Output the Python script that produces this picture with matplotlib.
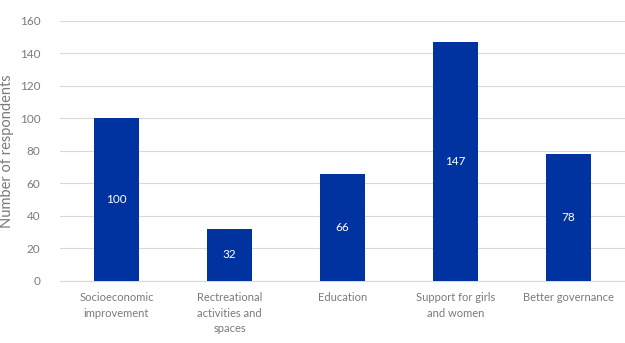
import matplotlib.pyplot as plt

categories = ["Socioeconomic\nimprovement", "Rectreational\nactivities and\nspaces",
              "Education", "Support for girls\nand women", "Better governance"]
values = [100, 32, 66, 147, 78]

plt.rcParams['font.family'] = ['Lato', 'DejaVu Sans']

fig = plt.figure(figsize=(6.25, 3.43), dpi=100)
ax = fig.add_axes([0.096, 0.181, 0.904, 0.758])

bars = ax.bar(range(len(values)), values, width=0.4, color='#0033a0', zorder=3)
for b, v in zip(bars, values):
    ax.text(b.get_x() + b.get_width() / 2, v / 2, str(v), ha='center', va='center',
            color='white', fontsize=8.5, zorder=4)

ax.set_ylim(0, 160)
ax.set_yticks(range(0, 161, 20))
ax.set_xlim(-0.5, len(values) - 0.5)
ax.set_xticks(range(len(values)))
ax.set_xticklabels(categories, fontsize=8, color='#7a7a7a', linespacing=1.5, va='top')
ax.tick_params(axis='y', labelsize=8.5, labelcolor='#7a7a7a', length=0, pad=14)
ax.tick_params(axis='x', length=0, pad=8)
ax.yaxis.grid(True, color='#d9d9d9', linewidth=0.8, zorder=0)
for s in ['top', 'right', 'left']:
    ax.spines[s].set_visible(False)
ax.spines['bottom'].set_color('#d9d9d9')
ax.set_ylabel("Number of respondents", fontsize=10.5, color='#7a7a7a', labelpad=4)

fig.savefig("out.png", dpi=100)
